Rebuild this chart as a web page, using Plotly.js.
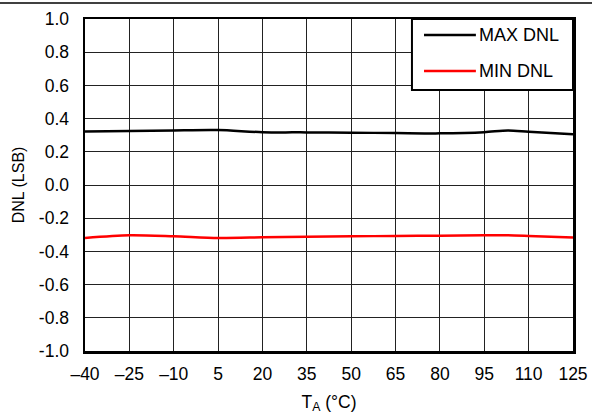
<!DOCTYPE html>
<html>
<head>
<meta charset="utf-8">
<script src="https://cdn.plot.ly/plotly-3.0.1.min.js"></script>
<style>
html,body{margin:0;padding:0;background:#fff;}
#chart{width:592px;height:415px;}
</style>
</head>
<body>
<div id="chart"></div>
<script>
// Temperature (°C)
const temps = [-40, -25, -10, 5, 20, 35, 50, 65, 80, 95, 103, 110, 125];
// DNL values (LSB)
const maxDNL = [0.323, 0.325, 0.329, 0.331, 0.318, 0.317, 0.315, 0.313, 0.311, 0.318, 0.329, 0.321, 0.305];
const minDNL = [-0.319, -0.303, -0.309, -0.319, -0.315, -0.311, -0.309, -0.307, -0.305, -0.303, -0.303, -0.307, -0.317];
const seriesNames = ['MAX DNL', 'MIN DNL'];
const seriesColors = ['#000000', '#ff0000'];
const xTicks = [-40, -25, -10, 5, 20, 35, 50, 65, 80, 95, 110, 125];
const xTickText = ['\u201340', '\u201325', '\u201310', '5', '20', '35', '50', '65', '80', '95', '110', '125'];
const yTicks = [-1.0, -0.8, -0.6, -0.4, -0.2, 0.0, 0.2, 0.4, 0.6, 0.8, 1.0];
const yTickText = ['-1.0', '-0.8', '-0.6', '-0.4', '-0.2', '0.0', '0.2', '0.4', '0.6', '0.8', '1.0'];

const font = 'Liberation Sans, Arial, sans-serif';

const traces = [
  {x: temps, y: maxDNL, name: seriesNames[0], mode: 'lines',
   line: {color: seriesColors[0], width: 2.5, shape: 'spline', smoothing: 0.8}},
  {x: temps, y: minDNL, name: seriesNames[1], mode: 'lines',
   line: {color: seriesColors[1], width: 2.5, shape: 'spline', smoothing: 0.8}}
];

// legend drawn in paper coordinates
const legendRows = [0.952, 0.843];
const shapes = [
  {type: 'line', xref: 'paper', yref: 'paper', x0: -0.2, x1: 1.1, y0: 1.048, y1: 1.048,
   line: {color: '#000', width: 1.5}},
  {type: 'rect', xref: 'paper', yref: 'paper', x0: 0.670, x1: 1.0, y0: 0.786, y1: 1.0,
   fillcolor: '#ffffff', line: {color: '#000', width: 2}, layer: 'above'}
];
const annotations = [];
seriesNames.forEach((n, i) => {
  shapes.push({type: 'line', xref: 'paper', yref: 'paper', x0: 0.6947, x1: 0.801,
    y0: legendRows[i], y1: legendRows[i], line: {color: seriesColors[i], width: 2.5}, layer: 'above'});
  annotations.push({xref: 'paper', yref: 'paper', x: 0.804, y: legendRows[i],
    xanchor: 'left', yanchor: 'middle', showarrow: false, text: n,
    font: {family: font, size: 18, color: '#000'}});
});

const layout = {
  width: 592, height: 415,
  margin: {l: 85, r: 19, t: 19, b: 64},
  paper_bgcolor: '#ffffff', plot_bgcolor: '#ffffff',
  font: {family: font, size: 17.5, color: '#000000'},
  showlegend: false,
  xaxis: {
    range: [-40, 125], tickvals: xTicks, ticktext: xTickText,
    showgrid: true, gridcolor: '#222222', gridwidth: 1,
    zeroline: false, showline: true, linecolor: '#000', linewidth: 2.5, mirror: true,
    ticks: '', ticklen: 0, ticklabelstandoff: 5,
    tickfont: {family: font, size: 17.5, color: '#000'},
    title: {text: 'T<sub>A</sub> (°C)', font: {family: font, size: 17.5, color: '#000'}, standoff: 13}
  },
  yaxis: {
    range: [-1, 1], tickvals: yTicks, ticktext: yTickText,
    showgrid: true, gridcolor: '#222222', gridwidth: 1,
    zeroline: false, showline: true, linecolor: '#000', linewidth: 2.5, mirror: true,
    ticks: '', ticklen: 0, ticklabelstandoff: 10,
    tickfont: {family: font, size: 17.5, color: '#000'},
    title: {text: 'DNL (LSB)', font: {family: font, size: 16, color: '#000'}, standoff: 10}
  },
  shapes: shapes,
  annotations: annotations
};

Plotly.newPlot('chart', traces, layout, {displayModeBar: false, staticPlot: true});
</script>
</body>
</html>
